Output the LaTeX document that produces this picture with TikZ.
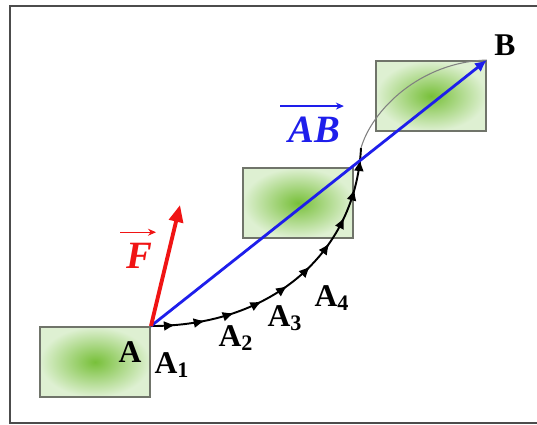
\documentclass[tikz,border=0pt]{standalone}
\usepackage{fontspec}
\setmainfont{Liberation Serif}
\usetikzlibrary{positioning,arrows.meta,decorations.markings,calc}
\definecolor{boxedge}{RGB}{112,116,106}
\definecolor{boxin}{RGB}{120,192,58}
\definecolor{boxout}{RGB}{222,240,210}
\definecolor{abblue}{RGB}{30,30,235}
\definecolor{fred}{RGB}{240,20,20}
\tikzset{
  blk/.style={draw=boxedge,line width=1.1pt,rectangle,minimum width=2.2cm,minimum height=1.4cm,inner color=boxin,outer color=boxout},
  lbl/.style={font=\fontsize{18}{18}\selectfont\bfseries,inner sep=1pt},
  vlbl/.style={font=\fontsize{22}{22}\selectfont\bfseries\itshape,inner sep=1pt},
  trk/.style={line width=1.1pt,postaction={decorate},
    decoration={markings,mark=between positions 0.08 and 0.97 step 0.098 with {\arrow{Latex[length=2.3mm,width=2mm]}}}},
  vec/.style={-{Latex[length=2.4mm,width=2.2mm]},line width=1.6pt},
  ovr/.style={-{Stealth[length=1.6mm,width=1.4mm]},line width=0.7pt},
}
\begin{document}
\begin{tikzpicture}[x=0.02cm,y=-0.02cm]
\useasboundingbox (0,0) rectangle (537,425);
% frame
\draw[line width=1.5pt,black!70] (548,6) -- (10,6) -- (10,423) -- (548,423);
% blocks
\node[blk] (blk1) at (95,362) {};
\node[blk] (blk2) at (298,203) {};
\node[blk] (blk3) at (431,96) {};
\coordinate (A) at (blk1.north east);
\coordinate (B) at (blk3.north east);
\coordinate (K) at (361,148);
\coordinate (Ftip) at (180,205);
% trajectory
\draw[trk] (A) .. controls (275,326) and (356,250) .. (K);
\draw[gray,line width=0.6pt] (K) .. controls (372,110) and (420,62) .. (B);
% vectors
\draw[vec,abblue] (A) -- (B);
\draw[-{Triangle[length=3.4mm,width=2.8mm]},fred,line width=2.2pt] (A) -- (Ftip);
% labels
\node[lbl] (lA) at (130,352) {A};
\node[lbl] (lA1) at (172,365) {A\textsubscript{1}};
\node[lbl] (lA2) at (236,338) {A\textsubscript{2}};
\node[lbl] (lA3) at (285,318) {A\textsubscript{3}};
\node[lbl] (lA4) at (332,298) {A\textsubscript{4}};
\node[lbl] (lB) at (505,45) {B};
\node[vlbl,abblue] (lAB) at (314,130) {AB};
\node[vlbl,fred] (lF) at (139,256) {F};
\draw[ovr,abblue] ($(lAB.north west)+(-6,-9)$) -- ($(lAB.north east)+(2,-9)$);
\draw[ovr,fred] ($(lF.north west)+(-4,-9)$) -- ($(lF.north east)+(2,-9)$);
\end{tikzpicture}
\end{document}
